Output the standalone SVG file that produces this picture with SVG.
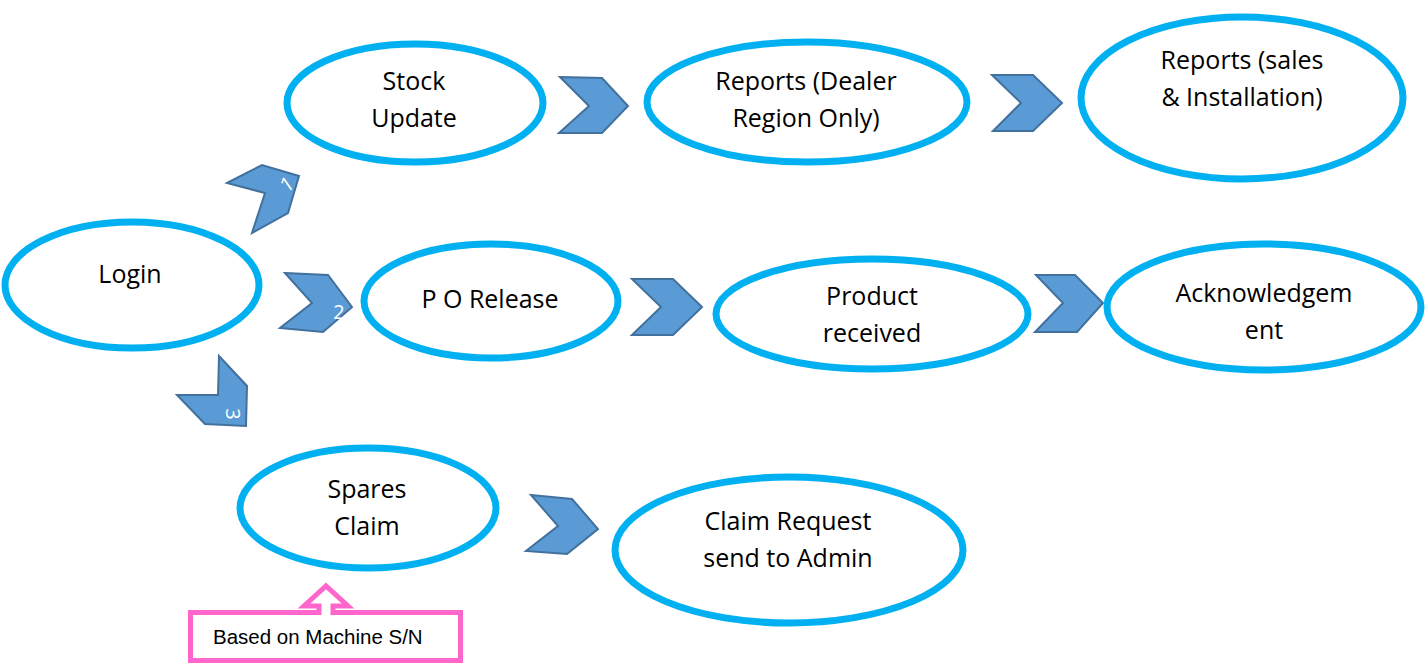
<svg xmlns="http://www.w3.org/2000/svg" width="1427" height="667" viewBox="0 0 1427 667">
  <style>
    .node { fill: #FFFFFF; stroke: #00B0F0; stroke-width: 7; }
    .lbl { font-family: "Open Sans", "Liberation Sans", sans-serif; font-size: 25px; fill: #000000; text-anchor: middle; }
    .chev { fill: #5B9BD5; stroke: #41719C; stroke-width: 2; stroke-linejoin: miter; }
    .num { font-family: "Open Sans", "Liberation Sans", sans-serif; font-size: 20px; fill: #FFFFFF; text-anchor: middle; }
    .note-box { fill: #FFFFFF; stroke: #FF66CC; stroke-width: 5; stroke-linejoin: miter; }
    .note { font-family: "Liberation Sans", Arial, sans-serif; font-size: 20.5px; fill: #000000; }
  </style>

  <!-- chevron connectors -->
  <g id="connectors">
    <g id="c-login-stock">
      <polygon class="chev" points="227,183 262,165 299,176 288,213 252,233 265,193"/>
      <text class="num" transform="translate(291,190) rotate(-35)">1</text>
    </g>
    <g id="c-login-po">
      <polygon class="chev" points="285,273 328,275 352,307 323,332 280,328 312,303"/>
      <text class="num" x="339" y="319">2</text>
    </g>
    <g id="c-login-spares">
      <polygon class="chev" points="219,356 247,386 246,426 205,424 177,395 218,395"/>
      <text class="num" transform="translate(226,414) rotate(90)">3</text>
    </g>
    <polygon id="c-stock-reports" class="chev" points="560,77 602,78 628,106 602,133 559,133 589,106"/>
    <polygon id="c-reports-sales" class="chev" points="992,75 1033,75 1062,103 1033,131 993,131 1021,103"/>
    <polygon id="c-po-product" class="chev" points="632,279 673,279 702,307 673,335 632,335 661,307"/>
    <polygon id="c-product-ack" class="chev" points="1036,275 1075,275 1103,303 1077,332 1035,332 1063,303"/>
    <polygon id="c-spares-claim" class="chev" points="531,495 572,499 598,529 567,554 526,551 558,526"/>
  </g>

  <g id="login">
    <ellipse class="node" cx="132" cy="285" rx="127" ry="63"/>
    <text class="lbl" x="130" y="283">Login</text>
  </g>

  <g id="stock-update">
    <ellipse class="node" cx="415" cy="103" rx="128" ry="59"/>
    <text class="lbl" x="414" y="90">Stock</text>
    <text class="lbl" x="414" y="127">Update</text>
  </g>

  <g id="reports-dealer">
    <ellipse class="node" cx="807" cy="102" rx="160" ry="60"/>
    <text class="lbl" x="806" y="90">Reports (Dealer</text>
    <text class="lbl" x="806" y="127">Region Only)</text>
  </g>

  <g id="reports-sales">
    <ellipse class="node" cx="1242" cy="98" rx="161" ry="81"/>
    <text class="lbl" x="1242" y="69">Reports (sales</text>
    <text class="lbl" x="1242" y="106">&amp; Installation)</text>
  </g>

  <g id="po-release">
    <ellipse class="node" cx="491" cy="301" rx="127" ry="57"/>
    <text class="lbl" x="490" y="308">P O Release</text>
  </g>

  <g id="product-received">
    <ellipse class="node" cx="872" cy="314" rx="156" ry="55"/>
    <text class="lbl" x="872" y="305">Product</text>
    <text class="lbl" x="872" y="342">received</text>
  </g>

  <g id="acknowledgement">
    <ellipse class="node" cx="1264" cy="307" rx="157" ry="63"/>
    <text class="lbl" x="1264" y="302">Acknowledgem</text>
    <text class="lbl" x="1264" y="339">ent</text>
  </g>

  <g id="spares-claim">
    <ellipse class="node" cx="368" cy="508" rx="128" ry="60"/>
    <text class="lbl" x="367" y="498">Spares</text>
    <text class="lbl" x="367" y="535">Claim</text>
  </g>

  <g id="claim-request">
    <ellipse class="node" cx="789" cy="550" rx="174" ry="73"/>
    <text class="lbl" x="788" y="530">Claim Request</text>
    <text class="lbl" x="788" y="567">send to Admin</text>
  </g>

  <g id="machine-note">
    <path class="note-box" d="M190.5,612.5 H319 V606 H304 L326,586 L348,606 H333 V612.5 H460.5 V660.5 H190.5 Z"/>
    <text class="note" x="213" y="644">Based on Machine S/N</text>
  </g>
</svg>
